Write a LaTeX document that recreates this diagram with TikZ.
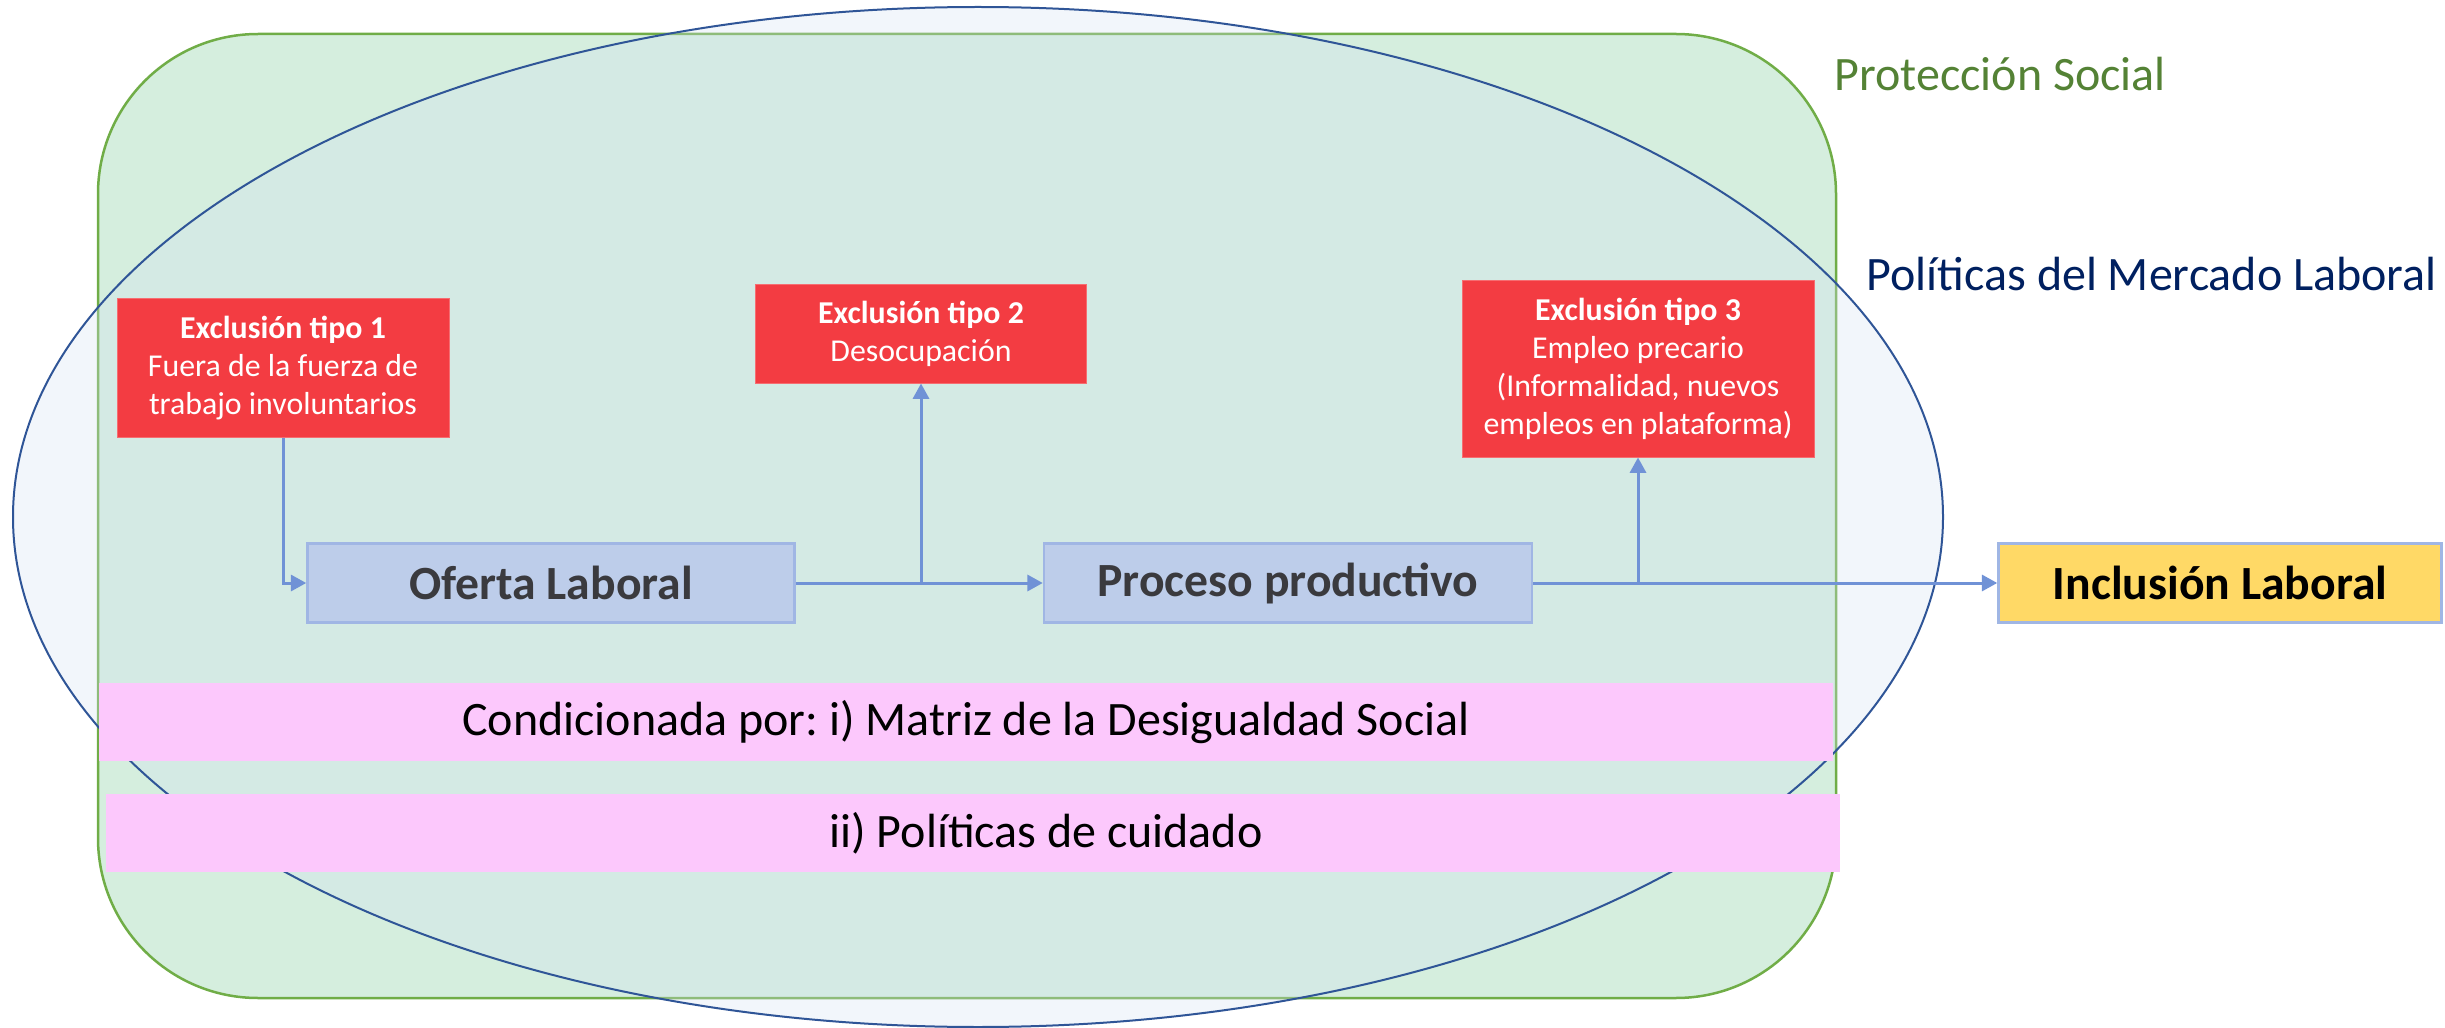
\documentclass[tikz,border=0pt]{standalone}
\usepackage{fontspec}
\setmainfont{Carlito}
\frenchspacing
\usetikzlibrary{arrows.meta,backgrounds}
\newlength{\pxu}
\setlength{\pxu}{0.3pt}
\definecolor{protgreen}{RGB}{112,173,71}
\definecolor{protfill}{RGB}{213,238,222}
\definecolor{prottext}{RGB}{84,130,53}
\definecolor{polblue}{RGB}{47,85,151}
\definecolor{polfill}{RGB}{212,225,242}
\definecolor{poltext}{RGB}{0,32,96}
\definecolor{exred}{RGB}{243,60,66}
\definecolor{procfill}{RGB}{189,205,234}
\definecolor{procdraw}{RGB}{160,182,228}
\definecolor{proctext}{RGB}{58,58,62}
\definecolor{inclfill}{RGB}{255,217,102}
\definecolor{condpink}{RGB}{252,200,252}
\definecolor{flowblue}{RGB}{112,146,214}
\tikzset{
  excl/.style={
    fill=exred,
    draw=exred!75!white,
    line width=0.3pt,
    text=white,
    inner sep=0pt,
    font=\fontsize{9.55}{11.4}\selectfont,
    align=center
  },
  proc/.style={
    fill=procfill,
    draw=procdraw,
    line width=0.75pt,
    text=proctext,
    inner sep=0pt,
    minimum height=79*\pxu,
    font=\fontsize{14.3}{16}\selectfont\bfseries
  },
  cond/.style={fill=condpink, inner sep=0pt, minimum height=78*\pxu, minimum width=1734*\pxu, font=\fontsize{14.4}{16}\selectfont},
  flow/.style={draw=flowblue, line width=0.9pt, -{Triangle[length=4.6pt,width=4.8pt]}},
  ttl/.style={font=\fontsize{14.4}{16}\selectfont, inner sep=0pt, anchor=base west},
}

\begin{document}
\begin{tikzpicture}[x=\pxu,y=-\pxu]
  \useasboundingbox (0,0) rectangle (2445,1028);
  % flujo principal
  \node[proc, minimum width=487*\pxu] (oferta) at (551,583) {Oferta Laboral};
  \node[proc, minimum width=488*\pxu] (proceso) at (1288,583) {Proceso productivo};
  \node[proc, fill=inclfill, text=black, minimum width=443*\pxu] (inclusion) at (2220,583) {Inclusión Laboral};
  % exclusiones
  \node[excl, minimum width=332*\pxu, minimum height=138*\pxu] (excl1) at (283,368)
    {\textbf{Exclusión tipo 1}\\Fuera de la fuerza de\\trabajo involuntarios};
  \node[excl, minimum width=331*\pxu, minimum height=98*\pxu] (excl2) at (921,334)
    {\textbf{Exclusión tipo 2}\\Desocupación};
  \node[excl, minimum width=352*\pxu, minimum height=176*\pxu] (excl3) at (1638,369)
    {\textbf{Exclusión tipo 3}\\Empleo precario\\(Informalidad, nuevos\\empleos en plataforma)};
  % condicionantes
  \node[cond] (cond1) at (966,722) {Condicionada por: i) Matriz de la Desigualdad Social};
  \node[cond] (cond2) at (973,833) {\hspace*{146\pxu}ii) Políticas de cuidado};
  % titulos
  \node[ttl, text=prottext] (prot) at (1834,91) {Protección Social};
  \node[ttl, text=poltext] (pol) at (1866,291) {Políticas del Mercado Laboral};
  % flechas
  \draw[flow] (excl1.south) |- (oferta.west);
  \draw[flow] (oferta.east) -- (proceso.west);
  \coordinate (b2) at (oferta.east -| excl2.south);
  \draw[flow] (b2) -- (excl2.south);
  \draw[flow] (proceso.east) -- (inclusion.west);
  \coordinate (b3) at (proceso.east -| excl3.south);
  \draw[flow] (b3) -- (excl3.south);
  \begin{scope}[on background layer]
    \draw[protgreen, fill=protfill, line width=0.75pt, rounded corners=48pt] (98,34) rectangle (1836,998);
    \draw[polblue, line width=0.6pt, fill=polfill, fill opacity=0.3] (978,517) ellipse [x radius=965, y radius=510];
  \end{scope}
\end{tikzpicture}
\end{document}
